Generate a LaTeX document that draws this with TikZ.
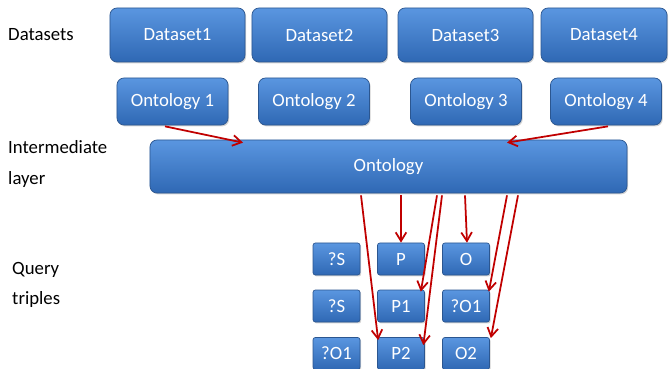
\documentclass[tikz,border=0pt]{standalone}
\usepackage{fontspec}
\setmainfont{Carlito}
\usetikzlibrary{calc,arrows.meta,shadows}
\definecolor{boxtop}{HTML}{5A96E0}
\definecolor{boxbot}{HTML}{2F68B4}
\definecolor{boxline}{HTML}{2B5690}
\definecolor{arrred}{HTML}{C00000}
\tikzset{
  blk/.style={draw=boxline, line width=0.6pt, rounded corners=6pt,
    top color=boxtop, bottom color=boxbot, text=white, inner sep=0pt,
    font=\fontsize{16}{18}\selectfont,
    drop shadow={opacity=0.35, shadow xshift=1pt, shadow yshift=-1.2pt}},
  ds/.style={blk, minimum width=4.05cm, minimum height=1.62cm},
  onto/.style={blk, minimum width=3.33cm, minimum height=1.41cm},
  trip/.style={blk, rounded corners=2pt, minimum width=1.41cm, minimum height=0.96cm},
  lbl/.style={anchor=west, align=left, inner sep=0pt},
  link/.style={draw=arrred, line width=1.5pt, -{Straight Barb[length=2.6mm, width=3.2mm]}}
}
\begin{document}
\begin{tikzpicture}[x=0.03cm, y=-0.03cm]%
\useasboundingbox (0,0) rectangle (669,369);
% row labels
\node[lbl, font=\fontsize{16}{18}\selectfont] (lds) at (8,35) {Datasets};
\node[lbl, font=\fontsize{16}{27}\selectfont] (lim) at (8,164) {Intermediate\\layer};
\node[lbl, font=\fontsize{16}{25}\selectfont] (lqt) at (12,285) {Query\\triples};
% datasets
\node[ds] (ds1) at (177.5,35) {Dataset1};
\node[ds] (ds2) at (319.5,35) {Dataset2};
\node[ds] (ds3) at (465.5,35) {Dataset3};
\node[ds, minimum width=3.78cm] (ds4) at (604,35) {Dataset4};
% local ontologies
\node[onto] (ont1) at (172.5,101.5) {Ontology 1};
\node[onto] (ont2) at (314,101.5) {Ontology 2};
\node[onto] (ont3) at (466,101.5) {Ontology 3};
\node[onto] (ont4) at (606,101.5) {Ontology 4};
% intermediate layer
\node[blk, minimum width=14.31cm, minimum height=1.59cm] (ont) at (388.5,166.5) {Ontology};
% query triples
\node[trip] (s)  at (336.5,259) {?S};
\node[trip] (p)  at (401,259)   {P};
\node[trip] (o)  at (466,259)   {O};
\node[trip] (s1) at (336.5,306) {?S};
\node[trip] (p1) at (401,306)   {P1};
\node[trip] (o1) at (466,306)   {?O1};
\node[trip] (s2) at (336.5,353.5) {?O1};
\node[trip] (p2) at (401,353.5)   {P2};
\node[trip] (o2) at (466,353.5)   {O2};
% mappings
\draw[link] ($(ont1.south)+(-7.5,1)$) -- ($(ont.north)+(-145.5,3)$);
\draw[link] ($(ont4.south)+(2,1)$) -- ($(ont.north)+(118.5,3)$);
\draw[link] ($(ont.south)+(-27.5,2)$) -- ($(p2.north west)+(1,3)$);
\draw[link] ($(ont.south)+(12.5,2)$) -- (p.north);
\draw[link] ($(ont.south)+(48.5,2)$) -- ($(p1.north east)+(-4,2)$);
\draw[link] ($(ont.south)+(53.5,2)$) -- ($(p2.north east)+(-1.5,8)$);
\draw[link] ($(ont.south)+(76.5,2)$) -- ($(o.north)+(1,0)$);
\draw[link] ($(ont.south)+(118.5,2)$) -- ($(o1.north east)+(-1,2)$);
\draw[link] ($(ont.south)+(129.5,2)$) -- ($(o2.north east)+(1,1)$);
\end{tikzpicture}
\end{document}
